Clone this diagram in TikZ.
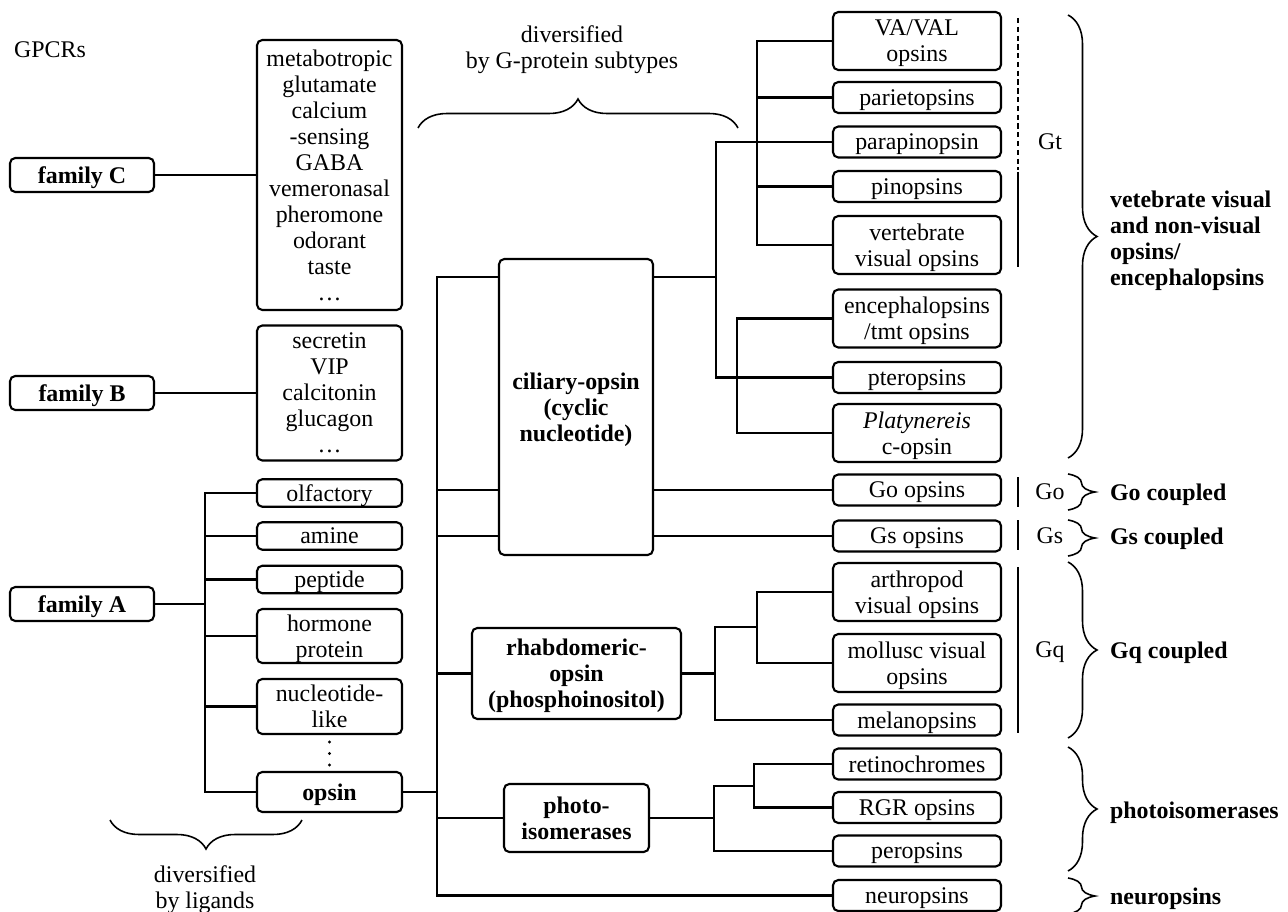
\documentclass[tikz,border=0pt]{standalone}
\usepackage{fontspec}
\setmainfont{Liberation Serif}
\usetikzlibrary{decorations.pathreplacing, calc}

\begin{document}
\begin{tikzpicture}[
    x=0.02cm, y=-0.02cm,
    every node/.style={font=\fontsize{13.6}{14.8}\selectfont, align=center, inner sep=1pt, text depth=0pt},
    famnode/.style={rectangle, draw, rounded corners=3pt, line width=1.2pt, minimum width=2.88cm, minimum height=0.68cm, font=\fontsize{13.6}{14.8}\selectfont\bfseries},
    ligbox/.style={rectangle, draw, rounded corners=3pt, line width=1.2pt, minimum width=2.9cm, minimum height=0.55cm},
    clade/.style={rectangle, draw, rounded corners=3pt, line width=1.2pt, font=\fontsize{13.6}{14.8}\selectfont\bfseries},
    opbox/.style={rectangle, draw, rounded corners=3pt, line width=1.2pt, minimum width=3.36cm, minimum height=0.62cm},
    opbox2/.style={opbox, minimum height=1.16cm},
    link/.style={line width=1.2pt},
    gmark/.style={line width=1.2pt},
    grp/.style={decorate, decoration={brace, amplitude=0.58cm}, line width=0.9pt},
    sgrp/.style={decorate, decoration={brace, amplitude=0.54cm}, line width=0.9pt},
    gtxt/.style={anchor=west, align=left, font=\fontsize{13.6}{14.8}\selectfont\bfseries}
]
\useasboundingbox (0,0) rectangle (1288,912);

% Families
\node (gpcr) at (50,49.5) {GPCRs};
\node (famC) [famnode] at (82,175) {family C};
\node (ligC) [ligbox, minimum height=5.4cm] at (329.5,175) {metabotropic\\glutamate\\calcium\\-sensing\\GABA\\vemeronasal\\pheromone\\odorant\\taste\\\dots};
\node (famB) [famnode] at (82,393) {family B};
\node (ligB) [ligbox, minimum height=2.7cm] at (329.5,393) {secretin\\VIP\\calcitonin\\glucagon\\\dots};
\node (famA) [famnode] at (82,604) {family A};

% Family A ligands
\node (olf) [ligbox] at (329.5,493) {olfactory};
\node (amine) [ligbox] at (329.5,536) {amine};
\node (pept) [ligbox] at (329.5,579.5) {peptide};
\node (horm) [ligbox, minimum height=1.08cm] at (329.5,636) {hormone\\protein};
\node (nucl) [ligbox, minimum height=1.1cm] at (329.5,706.5) {nucleotide-\\like};
\node (opsin) [ligbox, minimum height=0.8cm, font=\fontsize{13.6}{14.8}\selectfont\bfseries] at (329.5,792) {opsin};
\foreach \y in {742,753.5,765}
    \fill (329.5,\y) circle (1.7);

% Opsin clades
\node (cil) [clade, minimum width=3.08cm, minimum height=5.92cm] at (576,407) {ciliary-opsin\\(cyclic\\nucleotide)};
\node (rhab) [clade, minimum width=4.18cm, minimum height=1.82cm] at (576.5,673.5) {rhabdomeric-\\opsin\\(phosphoinositol)};
\node (photo) [clade, minimum width=2.9cm, minimum height=1.36cm] at (576.5,818) {photo-\\isomerases};

% Opsin types
\node (vaval) [opbox2] at (917,41) {VA/VAL\\opsins};
\node (pariet) [opbox] at (917,97.5) {parietopsins};
\node (parapin) [opbox] at (917,142) {parapinopsin};
\node (pinop) [opbox] at (917,186.5) {pinopsins};
\node (vert) [opbox2] at (917,245) {vertebrate\\visual opsins};
\node (enceph) [opbox2] at (917,318.5) {encephalopsins\\/tmt opsins};
\node (ptero) [opbox] at (917,377.5) {pteropsins};
\node (platy) [opbox2] at (917,433) {\textit{Platynereis}\\c-opsin};
\node (goop) [opbox] at (917,490) {Go opsins};
\node (gsop) [opbox] at (917,536) {Gs opsins};
\node (arth) [opbox2] at (917,592) {arthropod\\visual opsins};
\node (moll) [opbox2] at (917,663) {mollusc visual\\opsins};
\node (melan) [opbox] at (917,720) {melanopsins};
\node (retino) [opbox] at (917,764) {retinochromes};
\node (rgr) [opbox] at (917,807.5) {RGR opsins};
\node (perop) [opbox] at (917,851) {peropsins};
\node (neuro) [opbox] at (917,895.5) {neuropsins};

% Junctions
\coordinate (jA) at (205,604);
\coordinate (jT) at (437,792);
\coordinate (jCil) at (716,277);
\coordinate (jGt) at (757,142);
\coordinate (jEnc) at (737,377.5);
\coordinate (jRh) at (715,673.5);
\coordinate (jArth) at (757,627);
\coordinate (jPh) at (714,818);
\coordinate (jRet) at (754,786);

% Connectors
\draw [link] (famC) -- (ligC);
\draw [link] (famB) -- (ligB);
\draw [link] (famA.east) -- (jA);
\draw [link] (olf.west) -- (olf.west -| jA) -- (opsin.west -| jA) -- (opsin.west);
\foreach \n in {amine, pept, horm, nucl}
    \draw [link] (\n.west) -- (\n.west -| jA);

\draw [link] (opsin.east) -- (jT);
\draw [link] (cil.west |- jCil) -- (jT |- jCil) -- (jT |- neuro) -- (neuro.west);
\draw [link] (jT |- goop) -- (cil.west |- goop);
\draw [link] (jT |- gsop) -- (cil.west |- gsop);
\draw [link] (jT |- rhab) -- (rhab.west);
\draw [link] (jT |- photo) -- (photo.west);

% ciliary subtree
\draw [link] (cil.east |- jCil) -- (jCil);
\draw [link] (parapin.west) -- (jCil |- parapin) -- (jCil |- ptero) -- (ptero.west);
\draw [link] (vaval.west) -- (vaval.west -| jGt) -- (vert.west -| jGt) -- (vert.west);
\foreach \n in {pariet, pinop}
    \draw [link] (\n.west) -- (\n.west -| jGt);
\draw [link] (enceph.west) -- (enceph.west -| jEnc) -- (platy.west -| jEnc) -- (platy.west);
\draw [link] (cil.east |- goop) -- (goop.west);
\draw [link] (cil.east |- gsop) -- (gsop.west);

% rhabdomeric subtree
\draw [link] (rhab.east) -- (jRh);
\draw [link] (jArth) -- (jRh |- jArth) -- (jRh |- melan) -- (melan.west);
\draw [link] (arth.west) -- (arth.west -| jArth) -- (moll.west -| jArth) -- (moll.west);

% photoisomerase subtree
\draw [link] (photo.east) -- (jPh);
\draw [link] (jRet) -- (jPh |- jRet) -- (jPh |- perop) -- (perop.west);
\draw [link] (retino.west) -- (retino.west -| jRet) -- (rgr.west -| jRet) -- (rgr.west);

% G-protein marks
\draw [gmark, dash pattern=on 3pt off 2pt] (1018,18) -- (1018,170);
\draw [gmark] (1018,172) -- (1018,267);
\draw [gmark] (1018,477) -- (1018,507);
\draw [gmark] (1018,520) -- (1018,550);
\draw [gmark] (1018,567) -- (1018,733);
\node (gt) at (1050,142) {Gt};
\node (go) at (1050,492) {Go};
\node (gs) at (1050,536) {Gs};
\node (gq) at (1050,650) {Gq};

% Braces
\draw [grp] (418,128) -- (738,128);
\node (divG) at (572,47.5) {diversified\\by G-protein subtypes};
\draw [grp] (302,820) -- (110,820);
\node (divL) at (205,887) {diversified\\by ligands};

\draw [grp] (1068,15) -- (1068,458);
\draw [sgrp] (1068,474) -- (1068,510);
\draw [sgrp] (1068,520) -- (1068,556);
\draw [grp] (1068,562) -- (1068,738);
\draw [grp] (1068,747) -- (1068,871);
\draw [sgrp] (1068,878) -- (1068,914);

\node (vis) [gtxt] at (1108,238) {vetebrate visual\\and non-visual\\opsins/\\encephalopsins};
\node (goc) [gtxt] at (1108,492) {Go coupled};
\node (gsc) [gtxt] at (1108,536) {Gs coupled};
\node (gqc) [gtxt] at (1108,650) {Gq coupled};
\node (phc) [gtxt] at (1108,810) {photoisomerases};
\node (nec) [gtxt] at (1108,896) {neuropsins};

\end{tikzpicture}
\end{document}
